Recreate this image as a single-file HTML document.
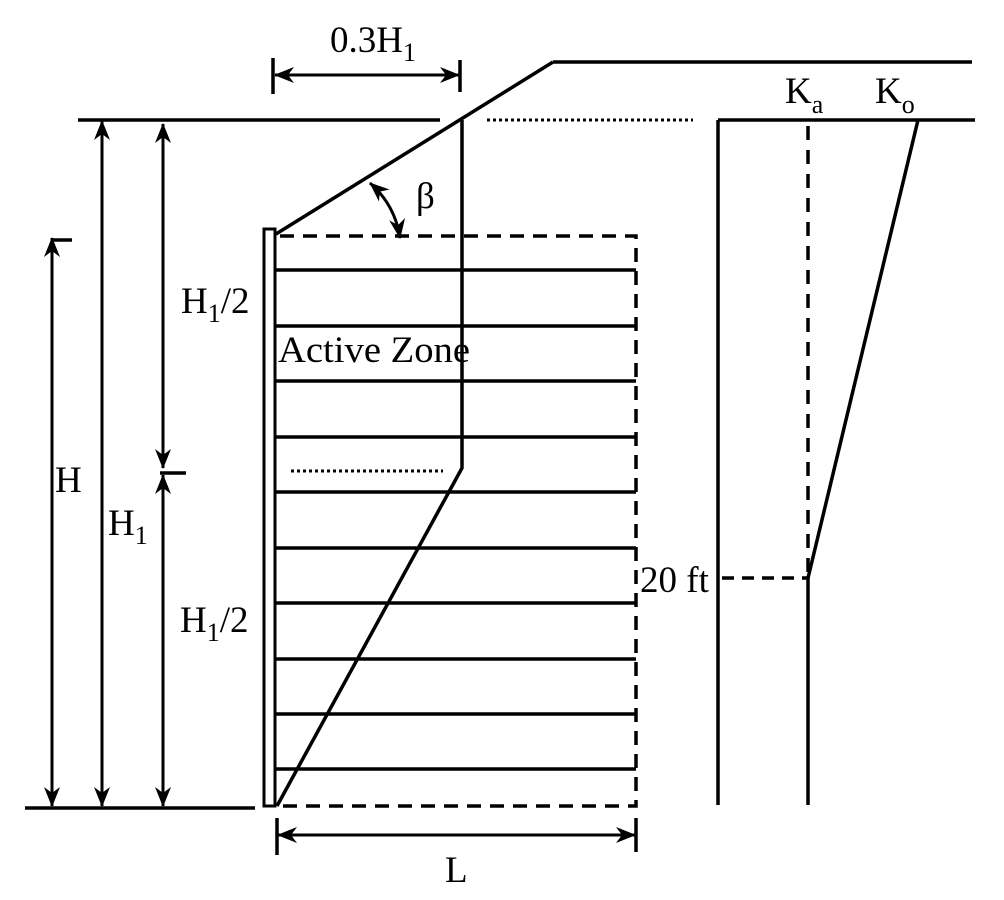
<!DOCTYPE html>
<html><head><meta charset="utf-8"><style>
html,body{margin:0;padding:0;background:#fff;}
svg{display:block;}
text{font-family:"Liberation Serif",serif;fill:#000;}
</style></head><body>
<svg width="1004" height="900" viewBox="0 0 1004 900" xmlns="http://www.w3.org/2000/svg">
<defs>
<marker id="a" viewBox="0 0 20 20" refX="19" refY="10" markerWidth="20" markerHeight="20" markerUnits="userSpaceOnUse" orient="auto-start-reverse">
<path d="M0,2 L20,10 L0,18 L6,10 Z" fill="#000"/>
</marker>
</defs>
<g stroke="#000" stroke-width="3.5" fill="none">
<line x1="78" y1="120" x2="440" y2="120"/>
<line x1="276" y1="234" x2="553" y2="62"/>
<line x1="553" y1="62" x2="972" y2="62"/>
<line x1="487" y1="120" x2="693" y2="120" stroke-dasharray="3,3" stroke-width="3"/>
<line x1="718" y1="120" x2="975" y2="120"/>
<line x1="718" y1="120" x2="718" y2="805"/>
<line x1="808" y1="126" x2="808" y2="578" stroke-dasharray="14,10"/>
<line x1="808" y1="578" x2="808" y2="805"/>
<line x1="918" y1="120" x2="808" y2="578"/>
<line x1="722" y1="578" x2="808" y2="578" stroke-dasharray="12,8"/>
<rect x="264" y="229" width="11" height="577" stroke-width="3"/>
<g>
<line x1="276" y1="270" x2="636" y2="270"/>
<line x1="276" y1="326" x2="636" y2="326"/>
<line x1="276" y1="381" x2="636" y2="381"/>
<line x1="276" y1="437" x2="636" y2="437"/>
<line x1="276" y1="492" x2="636" y2="492"/>
<line x1="276" y1="548" x2="636" y2="548"/>
<line x1="276" y1="603" x2="636" y2="603"/>
<line x1="276" y1="659" x2="636" y2="659"/>
<line x1="276" y1="714" x2="636" y2="714"/>
<line x1="276" y1="769" x2="636" y2="769"/>
</g>
<path d="M280,236 H636 V806 H278" stroke-dasharray="14,9"/>
<path d="M462,120 V468 L277,806"/>
<line x1="291" y1="471" x2="443" y2="471" stroke-dasharray="3,3" stroke-width="3"/>
<line x1="25" y1="808" x2="255" y2="808"/>
<line x1="52" y1="806" x2="52" y2="238" marker-start="url(#a)" marker-end="url(#a)" stroke-width="3"/>
<line x1="52" y1="240" x2="72" y2="240"/>
<line x1="102" y1="806" x2="102" y2="121" marker-start="url(#a)" marker-end="url(#a)" stroke-width="3"/>
<line x1="163" y1="468" x2="163" y2="124" marker-start="url(#a)" marker-end="url(#a)" stroke-width="3"/>
<line x1="163" y1="806" x2="163" y2="475" marker-start="url(#a)" marker-end="url(#a)" stroke-width="3"/>
<line x1="160" y1="473" x2="186" y2="473"/>
<line x1="275" y1="75" x2="459" y2="75" marker-start="url(#a)" marker-end="url(#a)" stroke-width="3"/>
<line x1="273" y1="58" x2="273" y2="94"/>
<line x1="460" y1="60" x2="460" y2="92"/>
<line x1="278" y1="835" x2="635" y2="835" marker-start="url(#a)" marker-end="url(#a)" stroke-width="3"/>
<line x1="277" y1="818" x2="277" y2="855"/>
<line x1="636" y1="818" x2="636" y2="852"/>
<path d="M370,183 Q395,205 400,238" marker-start="url(#a)" marker-end="url(#a)" stroke-width="3"/>
</g>
<g font-size="37">
<text x="330" y="52">0.3H<tspan font-size="26" dy="9">1</tspan></text>
<text x="416" y="208">β</text>
<text x="181" y="313">H<tspan font-size="26" dy="9">1</tspan><tspan dy="-9">/2</tspan></text>
<text x="278" y="362" textLength="192" lengthAdjust="spacingAndGlyphs">Active Zone</text>
<text x="55" y="492">H</text>
<text x="108" y="535">H<tspan font-size="26" dy="9">1</tspan></text>
<text x="180" y="632">H<tspan font-size="26" dy="9">1</tspan><tspan dy="-9">/2</tspan></text>
<text x="640" y="592">20 ft</text>
<text x="445" y="882">L</text>
<text x="785" y="103">K<tspan font-size="26" dy="10">a</tspan></text>
<text x="875" y="103">K<tspan font-size="26" dy="10">o</tspan></text>
</g>
</svg>
</body></html>
